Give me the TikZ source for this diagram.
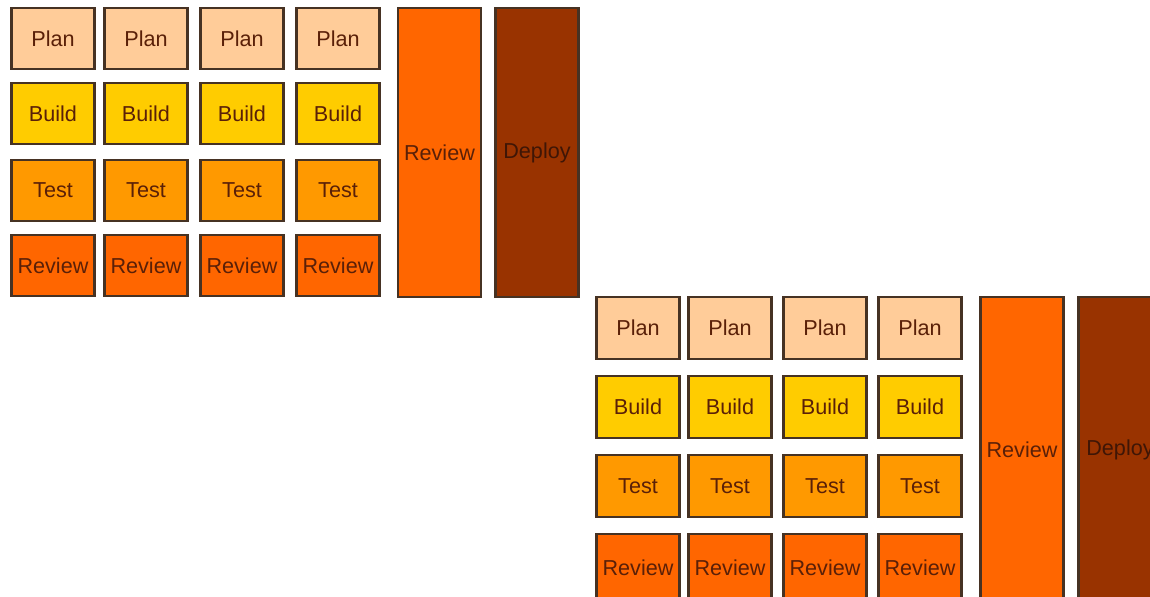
\documentclass[tikz,border=0pt]{standalone}
\usepackage{fontspec}
\setmainfont{Liberation Sans}

\definecolor{planfill}{RGB}{255,204,153}
\definecolor{buildfill}{RGB}{255,204,0}
\definecolor{testfill}{RGB}{255,153,0}
\definecolor{reviewfill}{RGB}{255,102,0}
\definecolor{deployfill}{RGB}{153,51,0}
\definecolor{boxline}{RGB}{70,50,35}
\definecolor{labeltext}{RGB}{90,32,8}

\tikzset{
  phase/.style={draw=boxline, line width=1.2pt, text=labeltext,
    font=\fontsize{12.3}{14}\selectfont, inner sep=0pt,
    minimum width=1.66cm, minimum height=1.22cm},
  stage/.style={phase, minimum height=5.78cm},
  lowstage/.style={phase, minimum height=6.1cm}
}

\begin{document}
\begin{tikzpicture}[x=0.02cm,y=-0.02cm]
\useasboundingbox (0,0) rectangle (1150,597);
\clip (0,0) rectangle (1150,597);

% first release: four iterations, then review and deploy
\foreach \i/\x in {1/53,2/146,3/242,4/338}{
  \node[phase,fill=planfill] (tplan\i) at (\x,38.5) {Plan};
  \node[phase,fill=buildfill] (tbuild\i) at (\x,113.5) {Build};
  \node[phase,fill=testfill] (ttest\i) at (\x,190.5) {Test};
  \node[phase,fill=reviewfill] (treview\i) at (\x,265.5) {Review};
}
\node[stage,fill=reviewfill] (treview) at (439.5,152.5) {Review};
\node[stage,fill=deployfill,text=labeltext!70!black] (tdeploy) at (537,152.5) {Deploy};

% second release (runs off the page)
\foreach \i/\x in {1/638,2/730,3/825,4/920}{
  \node[phase,fill=planfill,minimum height=1.24cm] (bplan\i) at (\x,328) {Plan};
  \node[phase,fill=buildfill,minimum height=1.24cm] (bbuild\i) at (\x,407) {Build};
  \node[phase,fill=testfill,minimum height=1.24cm] (btest\i) at (\x,486) {Test};
  \node[phase,fill=reviewfill,minimum height=1.36cm] (breview\i) at (\x,568) {Review};
}
\node[lowstage,fill=reviewfill] (breview) at (1022,449.5) {Review};
\node[lowstage,fill=deployfill,text=labeltext!70!black] (bdeploy) at (1120,449.5) {Deploy};
\end{tikzpicture}
\end{document}
